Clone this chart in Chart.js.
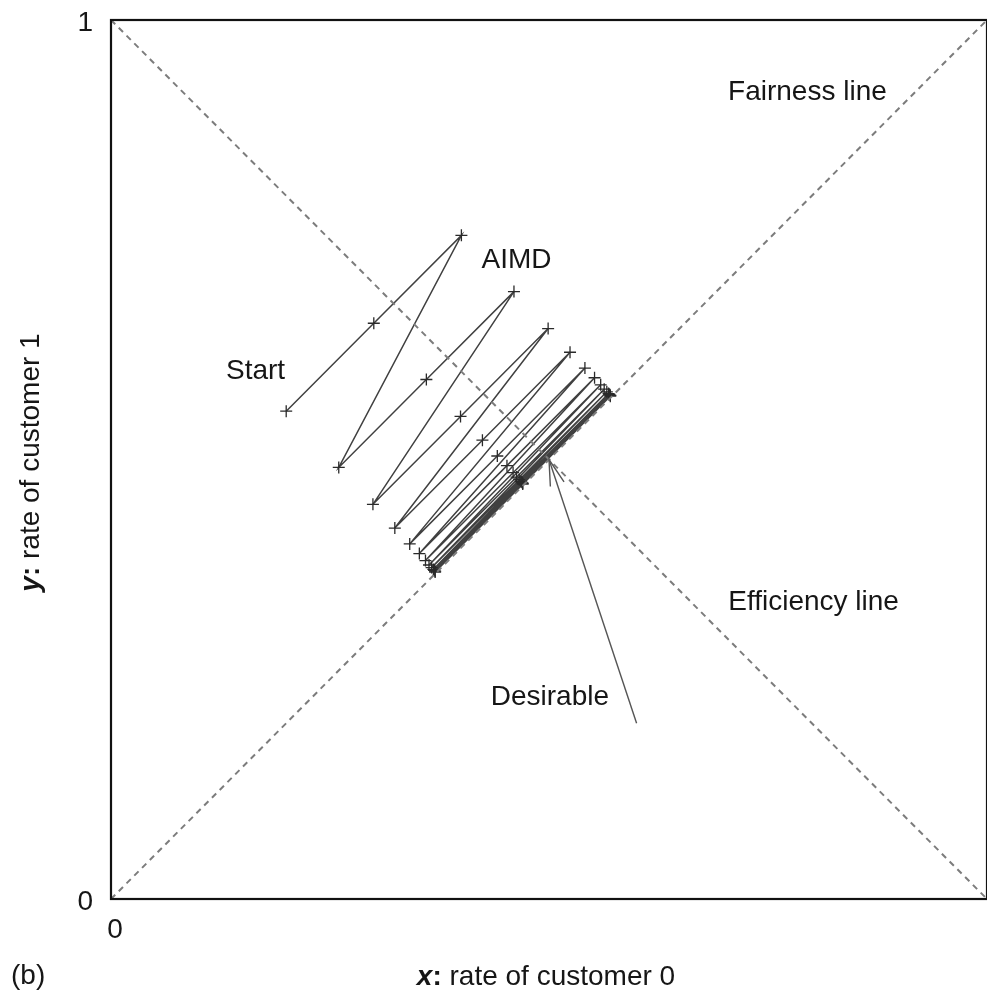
<!DOCTYPE html>
<html>
<head>
<meta charset="utf-8">
<script src="https://cdn.jsdelivr.net/npm/chart.js@4.4.1/dist/chart.umd.min.js"></script>
<style>
  html, body { margin: 0; padding: 0; background: #ffffff; overflow: hidden; }
  #wrap { width: 987px; height: 991px; position: relative; }
</style>
</head>
<body>
<div id="wrap"><canvas id="chart" width="987" height="991"></canvas></div>
<script>
// Axis range and tick values (both axes are rates from 0 to 1)
const axisTicks = [0, 1];

// AIMD trajectory: additive increase of 0.1 per step, cut (x0.65) once x + y > 1
const aimdX = [
  0.200, 0.300, 0.400,
  0.260, 0.360, 0.460,
  0.299, 0.399, 0.499,
  0.324, 0.424, 0.524,
  0.341, 0.441, 0.541,
  0.352, 0.452, 0.552,
  0.359, 0.459, 0.559,
  0.363, 0.463, 0.563,
  0.366, 0.466, 0.566,
  0.368, 0.468, 0.568,
  0.369, 0.469, 0.569,
  0.370, 0.470, 0.570,
  0.370, 0.470, 0.570
];
const aimdY = [
  0.555, 0.655, 0.755,
  0.491, 0.591, 0.691,
  0.449, 0.549, 0.649,
  0.422, 0.522, 0.622,
  0.404, 0.504, 0.604,
  0.393, 0.493, 0.593,
  0.385, 0.485, 0.585,
  0.380, 0.480, 0.580,
  0.377, 0.477, 0.577,
  0.375, 0.475, 0.575,
  0.374, 0.474, 0.574,
  0.373, 0.473, 0.573,
  0.372, 0.472, 0.572
];

// Reference lines
const fairnessX = [0, 1];
const fairnessY = [0, 1];
const efficiencyX = [0, 1];
const efficiencyY = [1, 0];

// Pointer to the desirable operating point (tail -> head)
const arrowX = [0.6, 0.5];
const arrowY = [0.2, 0.5];

// Text notes placed in data coordinates
const notes = [
  { text: 'Fairness line',   x: 0.795, y: 0.918 },
  { text: 'AIMD',            x: 0.463, y: 0.727 },
  { text: 'Start',           x: 0.165, y: 0.600 },
  { text: 'Efficiency line', x: 0.802, y: 0.338 },
  { text: 'Desirable',       x: 0.501, y: 0.229 }
];

const toPoints = (xs, ys) => xs.map((x, i) => ({ x: x, y: ys[i] }));

const FONT = '"Liberation Sans", Arial, Helvetica, sans-serif';
const INK = '#161616';

const decorations = {
  id: 'decorations',
  afterDatasetsDraw(chart) {
    const { ctx, chartArea: a, scales } = chart;
    const sx = scales.x, sy = scales.y;
    ctx.save();

    // Frame round the plot
    ctx.strokeStyle = '#111';
    ctx.lineWidth = 2.2;
    ctx.strokeRect(a.left, a.top, a.right - a.left, a.bottom - a.top);

    // Arrowhead at the desirable point
    const tx = sx.getPixelForValue(arrowX[0]), ty = sy.getPixelForValue(arrowY[0]);
    const hx = sx.getPixelForValue(arrowX[1]), hy = sy.getPixelForValue(arrowY[1]);
    const ang = Math.atan2(ty - hy, tx - hx);
    const len = 27, spread = 0.27;
    ctx.strokeStyle = '#555';
    ctx.lineWidth = 1.4;
    ctx.beginPath();
    ctx.moveTo(hx + len * Math.cos(ang - spread), hy + len * Math.sin(ang - spread));
    ctx.lineTo(hx, hy);
    ctx.lineTo(hx + len * Math.cos(ang + spread), hy + len * Math.sin(ang + spread));
    ctx.stroke();

    // Notes
    ctx.fillStyle = INK;
    ctx.font = '28px ' + FONT;
    ctx.textAlign = 'center';
    ctx.textBaseline = 'middle';
    notes.forEach(n => {
      ctx.fillText(n.text, sx.getPixelForValue(n.x), sy.getPixelForValue(n.y));
    });

    // Axis titles with a bold italic variable name
    const drawTitle = (parts) => {
      let total = 0;
      parts.forEach(p => { ctx.font = p.font; p.w = ctx.measureText(p.t).width; total += p.w; });
      let cx = -total / 2;
      ctx.textAlign = 'left';
      ctx.textBaseline = 'alphabetic';
      parts.forEach(p => { ctx.font = p.font; ctx.fillText(p.t, cx, 0); cx += p.w; });
    };

    const midX = (a.left + a.right) / 2;
    const midY = (a.top + a.bottom) / 2;

    ctx.save();
    ctx.translate(midX - 3, 985);
    drawTitle([
      { t: 'x', font: 'italic bold 28px ' + FONT },
      { t: ':', font: 'bold 28px ' + FONT },
      { t: ' rate of customer 0', font: '28px ' + FONT }
    ]);
    ctx.restore();

    ctx.save();
    ctx.translate(39, midY + 3);
    ctx.rotate(-Math.PI / 2);
    drawTitle([
      { t: 'y', font: 'italic bold 28px ' + FONT },
      { t: ':', font: 'bold 28px ' + FONT },
      { t: ' rate of customer 1', font: '28px ' + FONT }
    ]);
    ctx.restore();

    // Panel tag
    ctx.font = '28px ' + FONT;
    ctx.textAlign = 'left';
    ctx.textBaseline = 'alphabetic';
    ctx.fillText('(b)', 11, 984);

    ctx.restore();
  }
};

new Chart(document.getElementById('chart'), {
  type: 'scatter',
  data: {
    datasets: [
      {
        label: 'Fairness line',
        data: toPoints(fairnessX, fairnessY),
        showLine: true,
        borderColor: '#7c7c7c',
        borderWidth: 2,
        borderDash: [6, 5],
        pointRadius: 0
      },
      {
        label: 'Efficiency line',
        data: toPoints(efficiencyX, efficiencyY),
        showLine: true,
        borderColor: '#7c7c7c',
        borderWidth: 2,
        borderDash: [6, 5],
        pointRadius: 0
      },
      {
        label: 'AIMD',
        data: toPoints(aimdX, aimdY),
        showLine: true,
        borderColor: '#404040',
        borderWidth: 1.5,
        pointStyle: 'cross',
        pointRadius: 6,
        pointBorderColor: '#2a2a2a',
        pointBorderWidth: 1.3,
        pointBackgroundColor: '#2a2a2a'
      },
      {
        label: 'Desirable',
        data: toPoints(arrowX, arrowY),
        showLine: true,
        borderColor: '#555',
        borderWidth: 1.4,
        pointRadius: 0
      }
    ]
  },
  options: {
    responsive: false,
    animation: false,
    devicePixelRatio: 1,
    layout: { autoPadding: false, padding: { top: 20, right: -1, left: 0, bottom: 0 } },
    plugins: {
      legend: { display: false },
      tooltip: { enabled: false }
    },
    scales: {
      x: {
        type: 'linear',
        min: axisTicks[0],
        max: axisTicks[axisTicks.length - 1],
        grid: { display: false, drawTicks: false },
        border: { display: false },
        afterBuildTicks: (s) => { s.ticks = axisTicks.map(v => ({ value: v })); },
        afterFit: (s) => { s.height = 92; s.paddingLeft = 0; s.paddingRight = 0; },
        ticks: {
          padding: 14,
          labelOffset: 4,
          color: INK,
          font: { family: FONT, size: 28 },
          maxRotation: 0,
          callback: (v) => (v === axisTicks[0] ? String(v) : '')
        }
      },
      y: {
        type: 'linear',
        min: axisTicks[0],
        max: axisTicks[axisTicks.length - 1],
        grid: { display: false, drawTicks: false },
        border: { display: false },
        afterBuildTicks: (s) => { s.ticks = axisTicks.map(v => ({ value: v })); },
        afterFit: (s) => { s.width = 111; s.paddingTop = 0; s.paddingBottom = 0; },
        ticks: {
          padding: 18,
          labelOffset: 3,
          color: INK,
          font: { family: FONT, size: 28 },
          callback: (v) => String(v)
        }
      }
    }
  },
  plugins: [decorations]
});
</script>
</body>
</html>
